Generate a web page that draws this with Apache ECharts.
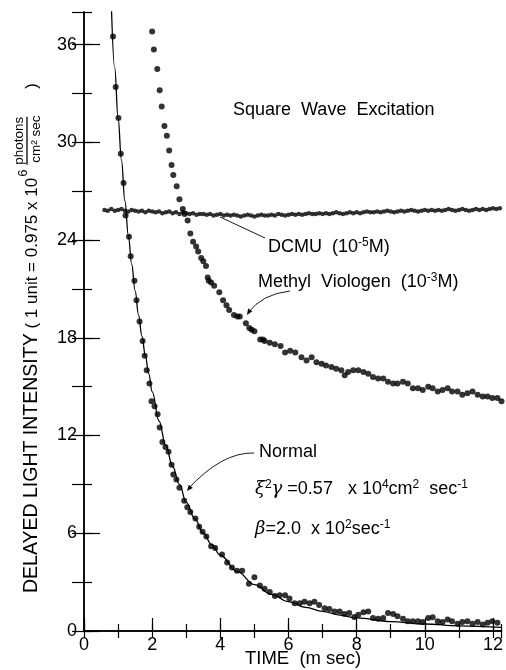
<!DOCTYPE html>
<html lang="en">
<head>
    <meta charset="utf-8">
    <title>Delayed Light Intensity - Square Wave Excitation</title>
    <script src="https://cdn.jsdelivr.net/npm/echarts@6/dist/echarts.min.js"></script>
    <style>
        html, body { margin: 0; padding: 0; background: #fff; }
        #chart { width: 506px; height: 670px; }
    </style>
</head>
<body>
<div id="chart"></div>
<script>
    // tick labels
    var xTickLabels = [0, 2, 4, 6, 8, 10, 12];
    var yTickLabels = [0, 6, 12, 18, 24, 30, 36];

    // Normal: measured points [time (m sec), intensity]
    var normalPoints = [
        [0.85,36.5],[0.93,33.4],[1.01,31.5],[1.08,29.3],[1.16,27.5],[1.22,25.5],[1.32,24.2],[1.37,23.0],
        [1.48,21.5],[1.54,20.3],[1.63,19.0],[1.72,17.8],[1.78,16.9],[1.84,16.0],[1.92,15.2],[1.98,14.1],
        [2.07,13.8],[2.16,13.3],[2.22,12.5],[2.3,11.6],[2.39,11.3],[2.48,11.0],[2.57,10.2],[2.62,9.6],
        [2.71,9.3],[2.8,8.8],[2.94,8.0],[3.03,7.6],[3.12,7.3],[3.27,6.9],[3.38,6.4],[3.48,6.1],[3.59,5.8],
        [3.73,5.2],[3.85,5.1],[4.05,4.7],[4.2,4.2],[4.34,3.9],[4.49,3.7],[4.64,3.7],[4.84,2.9],[5.0,3.3],
        [5.16,2.8],[5.3,2.6],[5.45,2.4],[5.6,2.15],[5.74,2.2],[5.9,2.2],[6.03,2.0],[6.18,1.7],[6.33,1.7],
        [6.47,1.8],[6.62,1.7],[6.76,1.8],[6.9,1.6],[7.06,1.4],[7.2,1.35],[7.35,1.2],[7.5,1.2],[7.64,1.05],
        [7.78,1.1],[7.93,0.86],[8.05,1.0],[8.2,1.15],[8.34,1.2],[8.48,0.8],[8.63,0.75],[8.78,0.8],[8.92,1.1],
        [9.07,1.05],[9.2,0.9],[9.36,0.75],[9.5,0.6],[9.65,0.6],[9.8,0.6],[9.94,0.55],[10.1,0.8],[10.23,0.85],
        [10.38,0.6],[10.52,0.55],[10.67,0.7],[10.8,0.6],[10.96,0.45],[11.1,0.55],[11.25,0.6],[11.4,0.45],
        [11.55,0.55],[11.7,0.4],[11.84,0.5],[11.98,0.6],[12.13,0.5]
    ];

    // Normal: fitted curve
    var normalFit = [
        [0.8,38.6],[0.9,34.6],[1.0,31.5],[1.1,28.9],[1.2,26.4],[1.3,24.3],[1.4,22.5],[1.5,20.9],[1.6,19.4],
        [1.7,18.1],[1.8,16.9],[1.9,15.8],[2.0,14.7],[2.2,12.9],[2.4,11.4],[2.6,10.1],[2.8,9.0],[3.0,7.9],
        [3.25,6.9],[3.5,6.0],[3.75,5.3],[4.0,4.65],[4.5,3.65],[5.0,2.85],[5.5,2.25],[6.0,1.8],[6.5,1.45],
        [7.0,1.2],[7.5,0.98],[8.0,0.8],[9.0,0.58],[10.0,0.43],[11.0,0.32],[12.25,0.22]
    ];

    // Methyl Viologen (10^-3 M)
    var methylPoints = [
        [2.0,36.8],[2.05,35.7],[2.15,34.5],[2.22,33.2],[2.28,32.2],[2.36,31.0],[2.43,30.4],[2.5,29.5],
        [2.57,28.6],[2.62,28.0],[2.72,27.3],[2.8,26.5],[2.9,25.9],[2.95,25.6],[3.04,25.2],[3.12,24.4],
        [3.2,23.9],[3.29,23.6],[3.35,23.3],[3.44,22.9],[3.5,22.7],[3.58,22.4],[3.63,21.7],[3.66,21.5],
        [3.73,21.4],[3.82,21.2],[3.97,20.8],[4.08,20.3],[4.18,20.0],[4.26,19.7],[4.4,19.4],[4.5,19.3],
        [4.57,19.3],[4.75,18.9],[4.85,18.6],[4.92,18.5],[5.0,18.4],[5.17,17.9],[5.25,17.9],[5.3,17.8],
        [5.45,17.7],[5.6,17.6],[5.77,17.5],[5.9,17.1],[6.05,17.2],[6.2,17.1],[6.38,16.8],[6.53,16.6],
        [6.68,16.8],[6.82,16.5],[6.97,16.4],[7.1,16.3],[7.26,16.2],[7.4,16.1],[7.55,16.0],[7.65,15.7],
        [7.75,15.9],[7.9,16.0],[8.05,16.0],[8.2,15.9],[8.34,15.8],[8.48,15.6],[8.63,15.5],[8.78,15.5],
        [8.92,15.3],[9.07,15.2],[9.2,15.2],[9.36,15.3],[9.5,15.2],[9.65,14.9],[9.8,14.9],[9.94,14.8],
        [10.1,15.0],[10.23,14.9],[10.38,14.7],[10.52,14.8],[10.67,14.9],[10.8,14.7],[10.96,14.7],[11.1,14.5],
        [11.25,14.6],[11.4,14.7],[11.55,14.5],[11.7,14.4],[11.84,14.4],[11.98,14.3],[12.13,14.3],[12.25,14.1]
    ];

    // DCMU (10^-5 M)
    var dcmuPoints = [
        [0.6,25.85],[0.7,25.8],[0.8,25.9],[0.9,25.8],[1.0,25.85],[1.1,25.9],[1.2,25.8],[1.3,25.75],[1.4,25.85],
        [1.5,25.8],[1.6,25.75],[1.7,25.8],[1.8,25.7],[1.9,25.8],[2.0,25.75],[2.1,25.7],[2.2,25.75],[2.3,25.65],
        [2.4,25.7],[2.5,25.75],[2.6,25.65],[2.7,25.7],[2.8,25.6],[2.9,25.7],[3.0,25.65],[3.1,25.6],[3.2,25.65],
        [3.3,25.55],[3.4,25.6],[3.5,25.6],[3.6,25.55],[3.7,25.6],[3.8,25.5],[3.9,25.55],[4.0,25.6],[4.1,25.5],
        [4.2,25.55],[4.3,25.5],[4.4,25.55],[4.5,25.5],[4.6,25.45],[4.7,25.5],[4.8,25.55],[4.9,25.5],[5.0,25.45],
        [5.1,25.5],[5.2,25.55],[5.3,25.5],[5.4,25.5],[5.5,25.55],[5.6,25.5],[5.7,25.6],[5.8,25.55],[5.9,25.5],
        [6.0,25.55],[6.1,25.6],[6.2,25.55],[6.3,25.6],[6.4,25.55],[6.5,25.6],[6.6,25.65],[6.7,25.6],[6.8,25.6],
        [6.9,25.65],[7.0,25.6],[7.1,25.65],[7.2,25.6],[7.3,25.65],[7.4,25.7],[7.5,25.65],[7.6,25.6],[7.7,25.65],
        [7.8,25.7],[7.9,25.65],[8.0,25.7],[8.1,25.65],[8.2,25.7],[8.3,25.75],[8.4,25.7],[8.5,25.7],[8.6,25.75],
        [8.7,25.7],[8.8,25.75],[8.9,25.8],[9.0,25.75],[9.1,25.7],[9.2,25.75],[9.3,25.8],[9.4,25.75],[9.5,25.8],
        [9.6,25.85],[9.7,25.8],[9.8,25.75],[9.9,25.8],[10.0,25.85],[10.1,25.8],[10.2,25.85],[10.3,25.8],
        [10.4,25.85],[10.5,25.8],[10.6,25.85],[10.7,25.9],[10.8,25.85],[10.9,25.8],[11.0,25.85],[11.1,25.9],
        [11.2,25.85],[11.3,25.8],[11.4,25.85],[11.5,25.9],[11.6,25.85],[11.7,25.9],[11.8,25.85],[11.9,25.9],
        [12.0,25.95],[12.1,25.9],[12.2,25.95]
    ];

    var FONT = '"Liberation Sans", Arial, sans-serif';
    var INK = '#000';

    var chart = echarts.init(document.getElementById('chart'), null, { renderer: 'canvas' });

    // width of a piece of text, for laying out the rotated y title
    var measureCtx = document.createElement('canvas').getContext('2d');
    function textWidth(s, size) {
        measureCtx.font = size + 'px ' + FONT;
        return measureCtx.measureText(s).width;
    }

    // small filled arrow head pointing at tip, coming from "from"
    function arrowHead(tip, from, len, half) {
        var dx = tip[0] - from[0], dy = tip[1] - from[1];
        var d = Math.sqrt(dx * dx + dy * dy);
        dx /= d; dy /= d;
        var bx = tip[0] - dx * len, by = tip[1] - dy * len;
        return {
            type: 'polygon',
            shape: { points: [tip, [bx - dy * half, by + dx * half], [bx + dy * half, by - dx * half]] },
            style: { fill: INK }
        };
    }

    var supStyle = { fontSize: 12, fontFamily: FONT, fill: INK, padding: [0, 0, 9, 0] };
    var itStyle = { fontSize: 18, fontFamily: 'DejaVu Serif', fontStyle: 'italic', fill: INK };

    function label(x, y, text) {
        return {
            type: 'text', x: x, y: y,
            style: {
                text: text, fontSize: 18, fontFamily: FONT, fill: INK,
                align: 'left', verticalAlign: 'middle',
                rich: { sup: supStyle, it: itStyle, n: { fontSize: 18, fontFamily: FONT, fill: INK } }
            }
        };
    }

    // y axis title pieces (rotated group)
    var yTitleA = 'DELAYED LIGHT INTENSITY';
    var yTitleB = ' ( 1 unit = 0.975 x 10';
    var sizeA = 19.5, sizeB = 17, fracSize = 13.5;
    var wA = textWidth(yTitleA, sizeA);
    var wB = textWidth(yTitleB, sizeB);
    var fracX = wA + wB + 13;
    var fracW = Math.max(textWidth('photons', fracSize), textWidth('cm² sec', fracSize));

    var option = {
        backgroundColor: '#fff',
        animation: false,
        grid: { left: 84, right: 2, top: 12, bottom: 39, containLabel: false },
        xAxis: [
            {   // bottom, long ticks + labels
                type: 'value', min: 0, max: 12.25, interval: 2, position: 'bottom',
                axisLine: { lineStyle: { color: INK, width: 1.5 } },
                axisTick: { inside: true, length: 13, lineStyle: { color: INK, width: 1.2 } },
                axisLabel: {
                    color: INK, fontSize: 18, fontFamily: FONT, margin: 5, showMaxLabel: false,
                    formatter: function (v) { return xTickLabels.indexOf(v) >= 0 ? String(v) : ''; }
                },
                splitLine: { show: false }
            },
            {   // bottom, short ticks
                type: 'value', min: 0, max: 12.25, interval: 1, position: 'bottom',
                axisLine: { show: false },
                axisTick: { inside: true, length: 7, lineStyle: { color: INK, width: 1.2 } },
                axisLabel: { show: false }, splitLine: { show: false }
            },
            {   // top frame
                type: 'value', min: 0, max: 12.25, interval: 1, position: 'top',
                axisLine: { lineStyle: { color: INK, width: 1.5 } },
                axisTick: { inside: true, length: 7, lineStyle: { color: INK, width: 1.2 } },
                axisLabel: { show: false }, splitLine: { show: false }
            }
        ],
        yAxis: [
            {   // left, long ticks + labels
                type: 'value', min: 0, max: 38, interval: 6, position: 'left',
                axisLine: { lineStyle: { color: INK, width: 1.5 } },
                axisTick: { inside: true, length: 16, lineStyle: { color: INK, width: 1.2 } },
                axisLabel: {
                    color: INK, fontSize: 18, fontFamily: FONT, margin: 7, showMaxLabel: false,
                    formatter: function (v) { return yTickLabels.indexOf(v) >= 0 ? String(v) : ''; }
                },
                splitLine: { show: false }
            },
            {   // left, short ticks
                type: 'value', min: 0, max: 38, interval: 3, position: 'left',
                axisLine: { show: false },
                axisTick: { inside: true, length: 8, lineStyle: { color: INK, width: 1.2 } },
                axisLabel: { show: false }, splitLine: { show: false }
            },
            {   // right frame
                type: 'value', min: 0, max: 38, interval: 3, position: 'right',
                axisLine: { lineStyle: { color: INK, width: 1.5 } },
                axisTick: { inside: true, length: 12, lineStyle: { color: INK, width: 1.2 } },
                axisLabel: { show: false }, splitLine: { show: false }
            }
        ],
        series: [
            {
                name: 'Normal fit', type: 'line', data: normalFit, smooth: 0.4, smoothMonotone: 'x',
                showSymbol: false, clip: true,
                lineStyle: { color: INK, width: 1.3 }, z: 2
            },
            {
                name: 'Normal', type: 'scatter', data: normalPoints, symbolSize: 6,
                itemStyle: { color: INK }, z: 3
            },
            {
                name: 'Methyl Viologen', type: 'scatter', data: methylPoints, symbolSize: 6,
                itemStyle: { color: INK }, z: 3
            },
            {
                name: 'DCMU', type: 'scatter', data: dcmuPoints, symbolSize: 4.5,
                itemStyle: { color: INK }, z: 3
            }
        ],
        graphic: [
            // y axis title, rotated to read bottom-to-top
            {
                type: 'group', x: 32, y: 593, rotation: Math.PI / 2,
                children: [
                    { type: 'text', x: 0, y: 0,
                      style: { text: yTitleA, fontSize: sizeA, fontFamily: FONT, fill: INK, verticalAlign: 'middle' } },
                    { type: 'text', x: wA, y: 0,
                      style: { text: yTitleB, fontSize: sizeB, fontFamily: FONT, fill: INK, verticalAlign: 'middle' } },
                    { type: 'text', x: wA + wB + 1, y: -9,
                      style: { text: '6', fontSize: 13, fontFamily: FONT, fill: INK, verticalAlign: 'middle' } },
                    { type: 'text', x: fracX, y: -6,
                      style: { text: 'photons', fontSize: fracSize, fontFamily: FONT, fill: INK, verticalAlign: 'bottom' } },
                    { type: 'line', shape: { x1: fracX, y1: -5, x2: fracX + fracW, y2: -5 },
                      style: { stroke: INK, lineWidth: 1.3 } },
                    { type: 'text', x: fracX + 2, y: -3,
                      style: { text: 'cm² sec', fontSize: fracSize, fontFamily: FONT, fill: INK, verticalAlign: 'top' } },
                    { type: 'text', x: fracX + fracW + 28, y: 0,
                      style: { text: ')', fontSize: sizeB, fontFamily: FONT, fill: INK, verticalAlign: 'middle' } }
                ]
            },
            // x axis title
            {
                type: 'text', x: 303, y: 659,
                style: { text: 'TIME  (m sec)', fontSize: 18.5, fontFamily: FONT, fill: INK, align: 'center', verticalAlign: 'middle' }
            },
            label(233, 110, 'Square  Wave  Excitation'),
            label(268, 247, 'DCMU  (10{sup|-5}M)'),
            label(258, 282, 'Methyl  Viologen  (10{sup|-3}M)'),
            label(259, 452, 'Normal'),
            label(255, 489, '{it|ξ}{sup|2}{it|γ} =0.57   x 10{sup|4}cm{sup|2}  sec{sup|-1}'),
            label(255, 529, '{it|β}=2.0  x 10{sup|2}sec{sup|-1}'),
            // leader lines
            { type: 'line', shape: { x1: 220, y1: 217, x2: 265, y2: 238 }, style: { stroke: INK, lineWidth: 0.9 } },
            { type: 'bezierCurve', shape: { x1: 248, y1: 313, cpx1: 262, cpy1: 294, x2: 290, y2: 291 },
              style: { stroke: INK, lineWidth: 0.9, fill: null } },
            arrowHead([247, 315], [254, 304], 6, 2.5),
            { type: 'bezierCurve', shape: { x1: 188, y1: 489, cpx1: 222, cpy1: 452, x2: 254, y2: 453 },
              style: { stroke: INK, lineWidth: 0.9, fill: null } },
            arrowHead([187, 491], [196, 480], 6, 2.5)
        ]
    };

    chart.setOption(option);
</script>
</body>
</html>
